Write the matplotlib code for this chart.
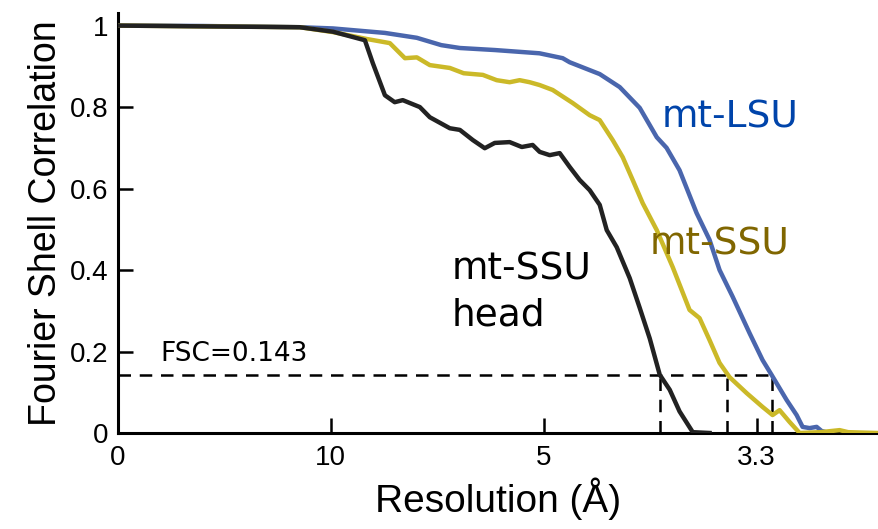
import matplotlib.pyplot as plt
import numpy as np

# spatial frequency (1/A) and FSC values
lsu_s = [0, 0.04, 0.0854, 0.101, 0.1254, 0.1404, 0.1519, 0.1606, 0.177, 0.198,
         0.2089, 0.2122, 0.2263, 0.2357, 0.2451, 0.2531, 0.2577, 0.2638, 0.2718,
         0.2779, 0.2826, 0.2887, 0.2967, 0.3028, 0.307, 0.3141, 0.3188, 0.3216,
         0.3249, 0.3282, 0.3305, 0.334]
lsu_fsc = [1.0, 0.999, 0.996, 0.993, 0.982, 0.97, 0.952, 0.945, 0.94, 0.932,
           0.92, 0.91, 0.881, 0.849, 0.798, 0.726, 0.70, 0.645, 0.54,
           0.474, 0.40, 0.335, 0.245, 0.179, 0.143, 0.081, 0.044, 0.015,
           0.012, 0.015, 0.005, 0.0]

ssu_s = [0, 0.0854, 0.101, 0.117, 0.1277, 0.1348, 0.1404, 0.1465, 0.1559, 0.1624,
         0.1714, 0.1779, 0.184, 0.1887, 0.1934, 0.1981, 0.2042, 0.2136, 0.2216,
         0.2263, 0.2324, 0.2371, 0.2418, 0.2465, 0.2531, 0.2606, 0.2685, 0.2732,
         0.2779, 0.2826, 0.2873, 0.2953, 0.3028, 0.3075, 0.3108, 0.3155, 0.3202,
         0.33, 0.339, 0.343, 0.3568]
ssu_fsc = [1.0, 0.996, 0.984, 0.967, 0.957, 0.920, 0.922, 0.903, 0.896, 0.883,
           0.879, 0.866, 0.861, 0.866, 0.861, 0.854, 0.842, 0.810, 0.780,
           0.768, 0.719, 0.677, 0.621, 0.564, 0.498, 0.407, 0.302, 0.282,
           0.228, 0.172, 0.137, 0.098, 0.064, 0.044, 0.056, 0.027, 0.0,
           0.002, 0.007, 0.002, 0.0]

head_s = [0, 0.0854, 0.101, 0.116, 0.1197, 0.1254, 0.130, 0.1338, 0.1418, 0.1465,
          0.1559, 0.1606, 0.1667, 0.1723, 0.177, 0.184, 0.1897, 0.1948, 0.1981,
          0.2028, 0.2075, 0.2122, 0.2169, 0.2216, 0.2263, 0.2296, 0.2343, 0.2404,
          0.2451, 0.2498, 0.2545, 0.2592, 0.2638, 0.27, 0.2779]
head_fsc = [1.0, 0.996, 0.985, 0.964, 0.908, 0.829, 0.812, 0.817, 0.800, 0.775,
            0.748, 0.744, 0.719, 0.699, 0.712, 0.714, 0.702, 0.707, 0.690,
            0.682, 0.687, 0.653, 0.621, 0.596, 0.56, 0.498, 0.456, 0.380,
            0.307, 0.232, 0.143, 0.106, 0.053, 0.002, 0.0]

fsc_cut = 0.143
cross_s = [0.2545, 0.2859, 0.307]   # where each curve hits 0.143

xtick_pos = [0, 0.1, 0.2, 0.3]
xtick_lab = ["0", "10", "5", "3.3"]
ytick_pos = [0, 0.2, 0.4, 0.6, 0.8, 1.0]
ytick_lab = ["0", "0.2", "0.4", "0.6", "0.8", "1"]

fig = plt.figure(figsize=(8.79, 5.29), dpi=100)
ax = fig.add_axes([0.1342, 0.1815, 0.8646, 0.794])

lw = 3.2
ax.plot(lsu_s, lsu_fsc, color="#4a66ad", lw=lw, zorder=3)
ax.plot(ssu_s, ssu_fsc, color="#cbb928", lw=lw, zorder=3)
ax.plot(head_s, head_fsc, color="#222222", lw=lw, zorder=4)

# threshold lines
dash = (0, (5, 3.5))
ax.plot([0, max(cross_s)], [fsc_cut, fsc_cut], color="black", lw=1.8, ls=dash, zorder=2)
for c in cross_s:
    ax.plot([c, c], [0, fsc_cut], color="black", lw=1.8, ls=dash, zorder=2)

ax.set_xlim(0, 0.357)
ax.set_ylim(0, 1.031)
ax.set_xticks(xtick_pos)
ax.set_xticklabels(xtick_lab)
ax.set_yticks(ytick_pos)
ax.set_yticklabels(ytick_lab)

for t in ax.get_xticklabels() + ax.get_yticklabels():
    t.set_fontfamily("Liberation Sans")
    t.set_fontsize(20)
ax.tick_params(direction="in", length=11, width=1.8)
ax.tick_params(axis="x", pad=9)
ax.tick_params(axis="y", pad=7)

for s in ["top", "right"]:
    ax.spines[s].set_visible(False)
for s in ["left", "bottom"]:
    ax.spines[s].set_linewidth(2.2)

ax.set_xlabel("Resolution (Å)", fontfamily="Liberation Sans", fontsize=28, labelpad=4)
ax.set_ylabel("Fourier Shell Correlation", fontfamily="Liberation Sans", fontsize=27, labelpad=4)

# curve labels
ax.text(0.2554, 0.775, "mt-LSU", color="#0044aa", fontsize=27, va="center")
ax.text(0.2498, 0.462, "mt-SSU", color="#806600", fontsize=27, va="center")
ax.text(0.1568, 0.345, "mt-SSU\nhead", color="black", fontsize=27, va="center", linespacing=1.35)
ax.text(0.0197, 0.193, "FSC=0.143", color="black", fontsize=19, va="center")

fig.savefig("out.png", dpi=100)
